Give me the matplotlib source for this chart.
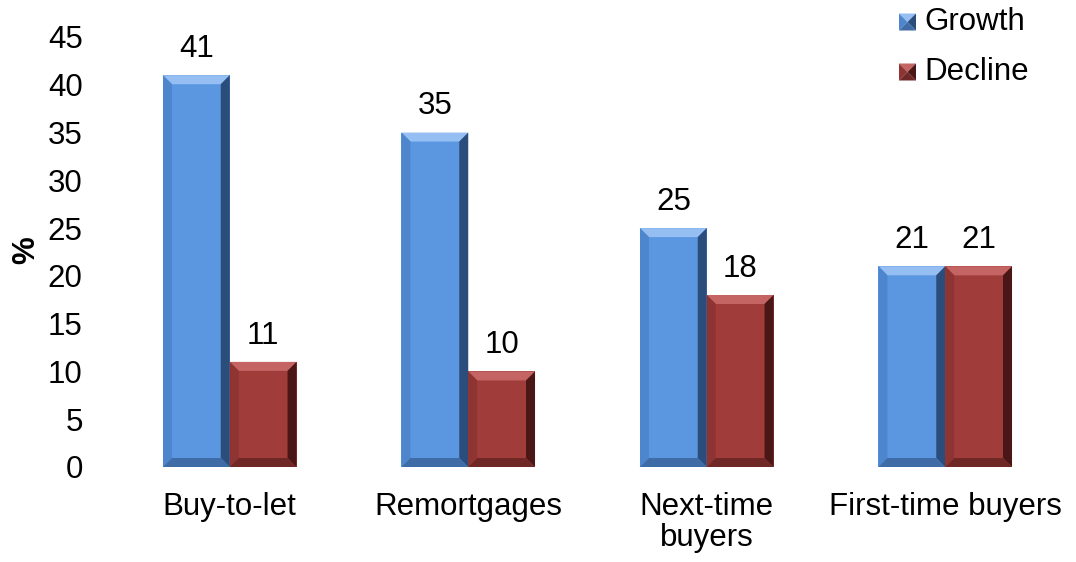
import numpy as np
import matplotlib.pyplot as plt
from matplotlib.patches import Polygon

categories = ["Buy-to-let", "Remortgages", "Next-time\nbuyers", "First-time buyers"]
growth = [41, 35, 25, 21]
decline = [11, 10, 18, 21]
series_names = ["Growth", "Decline"]
yticks = [0, 5, 10, 15, 20, 25, 30, 35, 40, 45]

# face, top, left, right, bottom
palettes = {
    "Growth": ["#5B96E0", "#95BEF2", "#4E86CE", "#2A4D7C", "#3F6BA6"],
    "Decline": ["#A03D3B", "#C46563", "#8E3533", "#4A1716", "#702826"],
}

plt.rcParams["font.family"] = ["Liberation Sans", "DejaVu Sans"]
FS = 22.5

fig = plt.figure(figsize=(10.76, 5.62), dpi=100)
ax = fig.add_axes([110.5 / 1076, 95 / 562, 954 / 1076, 430 / 562])

x = np.arange(len(categories))
w = 0.28
bars_g = ax.bar(x - w / 2, growth, w, color=palettes["Growth"][0], linewidth=0)
bars_d = ax.bar(x + w / 2, decline, w, color=palettes["Decline"][0], linewidth=0)
ax.set_xlim(-0.5, len(categories) - 0.5)
ax.set_ylim(0, 45)

# bevel edges, sized in pixels and converted to data units
px_x = 1.0 / 954 * len(categories)
px_y = 45 / 430
dx, dy = 9 * px_x, 9 * px_y


def bevel(bars, pal):
    for b in bars:
        x0, y0 = b.get_x(), b.get_y()
        x1, y1 = x0 + b.get_width(), y0 + b.get_height()
        faces = [
            ([(x0, y1), (x1, y1), (x1 - dx, y1 - dy), (x0 + dx, y1 - dy)], pal[1]),
            ([(x0, y0), (x0, y1), (x0 + dx, y1 - dy), (x0 + dx, y0 + dy)], pal[2]),
            ([(x1, y0), (x1, y1), (x1 - dx, y1 - dy), (x1 - dx, y0 + dy)], pal[3]),
            ([(x0, y0), (x1, y0), (x1 - dx, y0 + dy), (x0 + dx, y0 + dy)], pal[4]),
        ]
        for pts, c in faces:
            ax.add_patch(Polygon(pts, closed=True, facecolor=c, edgecolor="none"))


bevel(bars_g, palettes["Growth"])
bevel(bars_d, palettes["Decline"])

for bars in (bars_g, bars_d):
    for b in bars:
        ax.text(b.get_x() + b.get_width() / 2, b.get_height() + 1.9, f"{b.get_height():g}",
                ha="center", va="baseline", fontsize=FS)

ax.set_yticks(yticks)
ax.set_yticklabels([str(t) for t in yticks], fontsize=FS)
ax.set_xticks(x)
ax.set_xticklabels(categories, fontsize=FS, va="top", linespacing=1.05)
ax.tick_params(length=0)
ax.tick_params(axis="x", pad=18)
ax.tick_params(axis="y", pad=20)
for s in ax.spines.values():
    s.set_visible(False)
ax.set_ylabel("%", fontsize=FS, fontweight="bold")
ax.yaxis.set_label_coords(-0.073, 0.505)

# legend drawn by hand: small pyramid squares plus text
sq = 17
for i, name in enumerate(series_names):
    pal = palettes[name]
    cy = 22 + 50 * i
    X0, X1 = 899, 899 + sq
    Y0, Y1 = 562 - (cy + sq / 2), 562 - (cy - sq / 2)
    mx, my = (X0 + X1) / 2, (Y0 + Y1) / 2
    tris = [
        ([(X0, Y1), (X1, Y1), (mx, my)], pal[1]),
        ([(X0, Y0), (X0, Y1), (mx, my)], pal[2]),
        ([(X1, Y0), (X1, Y1), (mx, my)], pal[3]),
        ([(X0, Y0), (X1, Y0), (mx, my)], pal[4]),
    ]
    for pts, c in tris:
        fig.add_artist(Polygon([(px / 1076, py / 562) for px, py in pts], closed=True,
                               facecolor=c, edgecolor="none", transform=fig.transFigure))
    fig.text(924 / 1076, 1 - cy / 562, name, fontsize=FS, ha="left", va="center")

fig.savefig("out.png", dpi=100)
